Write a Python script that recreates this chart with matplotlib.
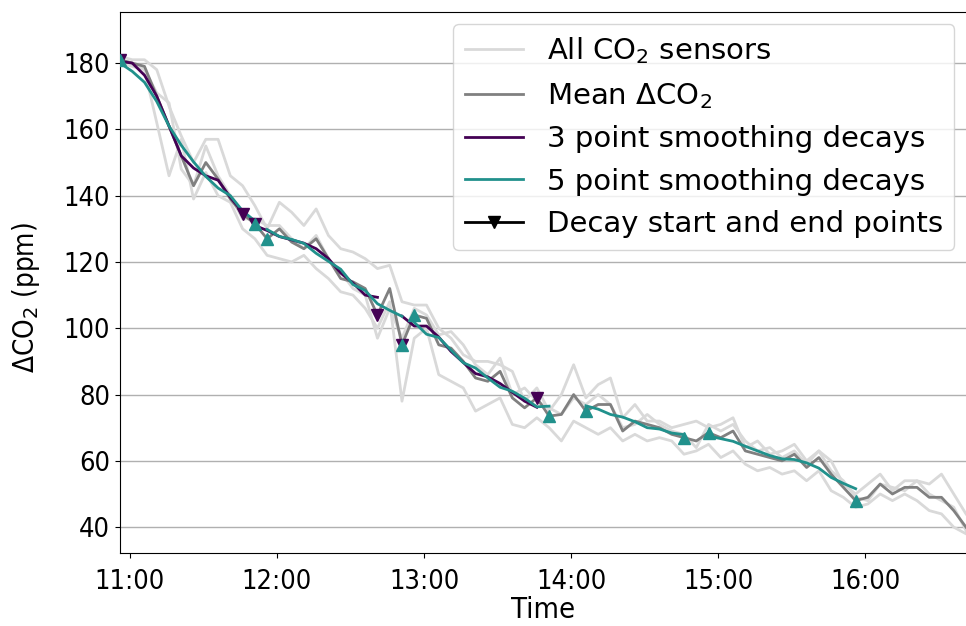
import numpy as np
import pandas as pd
import matplotlib
matplotlib.use("Agg")
import matplotlib.pyplot as plt
import matplotlib.dates as mdates
from matplotlib.lines import Line2D

# ---- data (5-minute samples from 10:56) ----
start_time = "2020-01-01 10:56"
n_points = 70

mean_co2 = [181, 180, 179, 170, 161, 152, 143, 150, 145, 139,
            134.5, 131.5, 127, 130, 126, 124, 127, 121, 115, 114,
            112, 104, 112, 95, 104, 103, 95, 94, 90, 85,
            84, 87, 79, 76, 79, 73.5, 74, 80, 75, 77,
            77, 69, 72, 71, 70, 68, 67, 66, 68.5, 67,
            69, 63, 62, 61, 60, 62, 58, 61, 56, 52,
            48, 49, 53, 50, 52, 52, 49, 49, 45, 40]

sensor_1 = [182, 181, 181, 178, 167, 158, 150, 157, 157, 146,
            143, 137, 130, 138, 135, 131, 136, 128, 124, 123,
            121, 118, 119, 108, 107, 107, 100, 97, 92, 90,
            90, 89, 87, 78, 82, 75, 80, 89, 79, 83,
            85, 73, 77, 72, 72, 70, 71, 72, 70, 71,
            73, 64, 66, 62, 63, 65, 60, 63, 60, 53,
            50, 53, 56, 51, 54, 54, 53, 56, 50, 44]
sensor_2 = [181, 180, 178, 162, 146, 157, 139, 147, 140, 138,
            130, 127, 122, 121, 120, 122, 118, 115, 111, 110,
            106, 100, 108, 78, 97, 100, 86, 84, 82, 75,
            77, 79, 71, 70, 73, 70, 66, 72, 70, 68,
            70, 66, 68, 66, 67, 66, 62, 63, 65, 61,
            63, 59, 57, 58, 56, 57, 54, 57, 51, 49,
            46, 47, 50, 48, 50, 48, 45, 44, 40, 38]
sensor_3 = [180, 179, 178, 171, 168, 148, 143, 155, 146, 140,
            133, 133, 131, 131, 127, 124, 128, 121, 117, 112,
            110, 97, 106, 97, 106, 104, 98, 99, 95, 89,
            86, 91, 80, 82, 78, 76, 74, 79, 77, 80,
            77, 70, 71, 74, 71, 69, 68, 64, 71, 69,
            71, 66, 63, 64, 61, 63, 59, 63, 57, 54,
            49, 48, 53, 52, 51, 54, 50, 48, 46, 39]

# decay segments (start index, end index)
decays_3pt = [(0, 10), (11, 21), (23, 34)]
decays_5pt = [(0, 11), (12, 23), (24, 35), (38, 46), (48, 60)]

legend_labels = ["All CO$_2$ sensors", "Mean ΔCO$_2$",
                 "3 point smoothing decays", "5 point smoothing decays",
                 "Decay start and end points"]

# ---- styling ----
c_sensor = "#d9d9d9"
c_mean = "#808080"
c_3 = "#440154"
c_5 = "#21918c"

plt.rcParams["font.family"] = ["DejaVu Sans"]

times = pd.date_range(start_time, periods=n_points, freq="5min")
mean_s = pd.Series(mean_co2, index=times)
smooth3 = mean_s.rolling(3, center=True, min_periods=1).mean()
smooth5 = mean_s.rolling(5, center=True, min_periods=1).mean()

fig = plt.figure(figsize=(9.66, 6.26), dpi=100)
ax = fig.add_axes([0.1242, 0.1166, 0.8758, 0.8642])

for s in (sensor_1, sensor_2, sensor_3):
    ax.plot(times, s, color=c_sensor, lw=2, zorder=1)
ax.plot(times, mean_co2, color=c_mean, lw=2, zorder=2)

for a, b in decays_3pt:
    ax.plot(times[a:b + 1], smooth3.values[a:b + 1], color=c_3, lw=2, zorder=3)
for a, b in decays_5pt:
    ax.plot(times[a:b + 1], smooth5.values[a:b + 1], color=c_5, lw=2, zorder=4)

for a, b in decays_3pt:
    idx = [a, b]
    ax.plot(times[idx], mean_s.values[idx], ls="none", marker="v",
            ms=8, color=c_3, zorder=5)
for a, b in decays_5pt:
    idx = [a, b]
    ax.plot(times[idx], mean_s.values[idx], ls="none", marker="^",
            ms=8, color=c_5, zorder=6)

ax.set_xlim(times[0], times[-1])
ax.set_ylim(32.2, 195.4)
ax.set_yticks(np.arange(40, 181, 20))
ax.yaxis.grid(True, color="#b0b0b0", lw=1)
ax.set_axisbelow(True)
ax.xaxis.set_major_locator(mdates.HourLocator())
ax.xaxis.set_major_formatter(mdates.DateFormatter("%H:%M"))
ax.spines["right"].set_visible(False)
ax.tick_params(axis="x", pad=8)

for lab in ax.get_xticklabels() + ax.get_yticklabels():
    lab.set_fontfamily("DejaVu Sans")
    lab.set_fontstretch("condensed")
    lab.set_fontsize(19.5)
ax.set_xlabel("Time", fontsize=21, fontstretch="condensed", labelpad=1)
ax.set_ylabel("ΔCO$_2$ (ppm)", fontsize=20, fontstretch="condensed")
ax.yaxis.set_label_coords(-0.092, 0.472)

handles = [Line2D([], [], color=c_sensor, lw=2),
           Line2D([], [], color=c_mean, lw=2),
           Line2D([], [], color=c_3, lw=2),
           Line2D([], [], color=c_5, lw=2),
           Line2D([], [], color="black", lw=2, marker="v", ms=8)]
ax.legend(handles, legend_labels, loc="upper right", fontsize=21,
          framealpha=0.8, handlelength=2.0, borderaxespad=0.4)

fig.savefig("out.png", dpi=100)
